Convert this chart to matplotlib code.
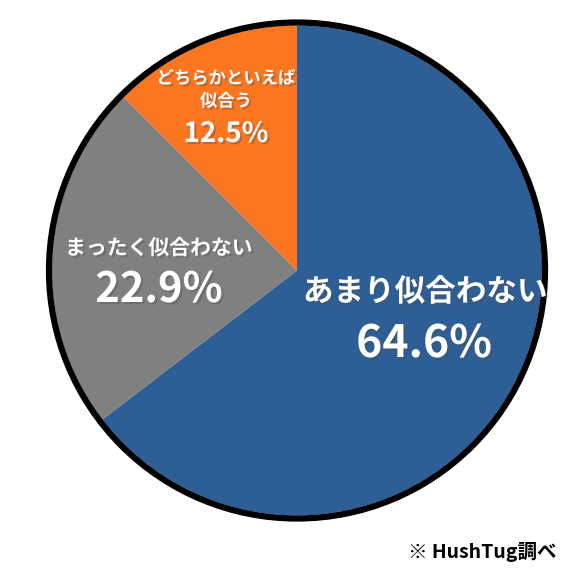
import matplotlib
matplotlib.use('Agg')
import matplotlib.pyplot as plt
import matplotlib.patheffects as pe
from matplotlib.patches import Circle

plt.rcParams['font.family'] = ['Noto Sans CJK JP', 'DejaVu Sans']

# Data ------------------------------------------------------------------
labels = ['あまり似合わない', 'まったく似合わない', 'どちらかといえば\n似合う']
values = [64.6, 22.9, 12.5]
colors = ['#2E5E96', '#808080', '#FC761F']
note = '※ HushTug調べ'

# Figure in pixel coordinates -------------------------------------------
W, H = 579, 581
fig = plt.figure(figsize=(W / 100, H / 100), dpi=100)
ax = fig.add_axes([0, 0, 1, 1])

cx, cy, r = 297, H - 270.5, 245
ax.pie(values, colors=colors, startangle=90, counterclock=False,
       center=(cx, cy), radius=r, wedgeprops=dict(linewidth=0))
ax.add_patch(Circle((cx, cy), r + 3, fill=False, edgecolor='black', linewidth=4.5))

ax.set_xlim(0, W)
ax.set_ylim(0, H)
ax.set_aspect('auto')
ax.axis('off')

shadow = [pe.SimplePatchShadow(offset=(1.5, -1.5), alpha=0.35), pe.Normal()]

def label(x, y, s, size):
    ax.text(x, H - y, s, color='white', fontsize=size, fontweight='bold',
            ha='center', va='center', path_effects=shadow, linespacing=1.35)

# blue
label(425, 292, labels[0], 22)
label(424, 344, f'{values[0]}%', 32)
# gray
label(159, 248, labels[1], 15)
label(159, 290, f'{values[1]}%', 30)
# orange
label(226, 90, labels[2], 12.5)
label(226, 134, f'{values[2]}%', 20)

ax.text(557, H - 552, note, fontsize=14, fontweight='bold', color='black',
        ha='right', va='center')

fig.savefig('out.png', dpi=100)
